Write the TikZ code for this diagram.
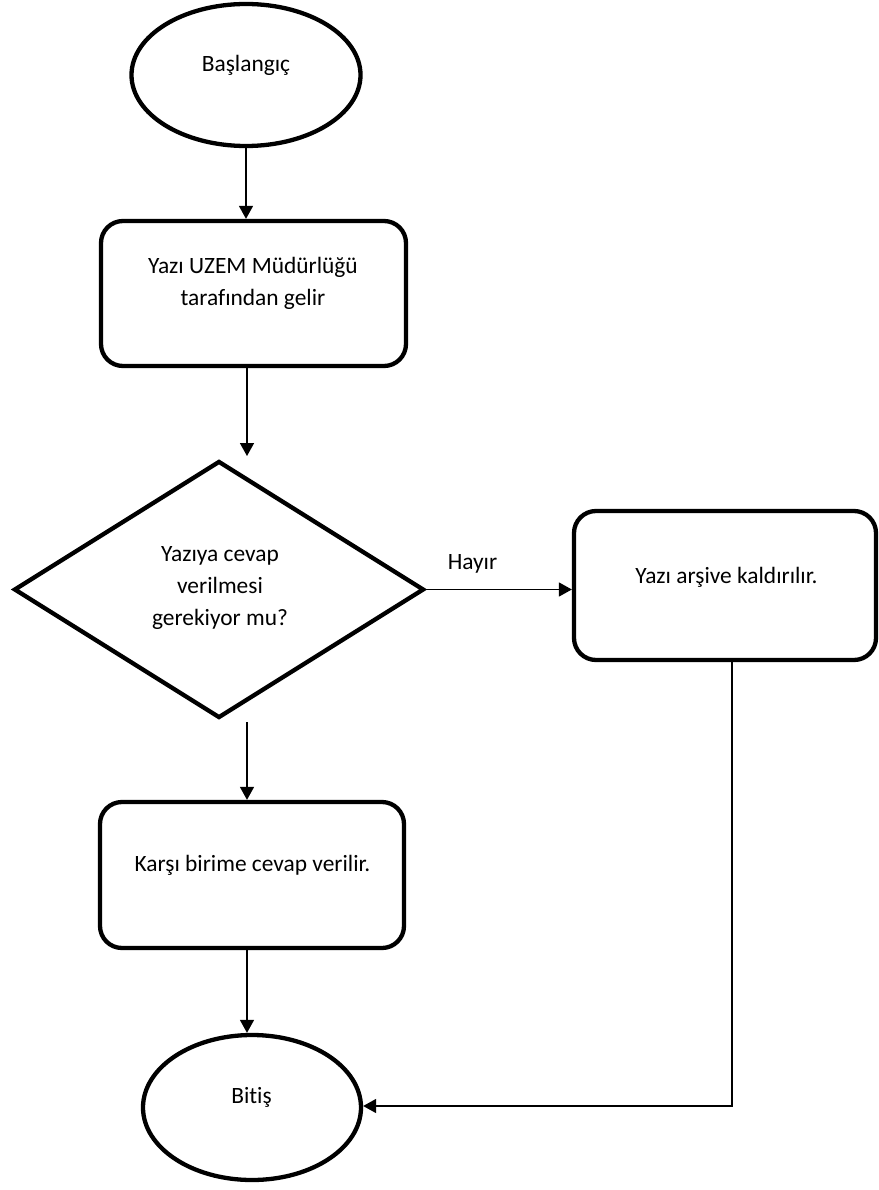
\documentclass[tikz,border=0pt]{standalone}
\usepackage{fontspec}
\setmainfont{Carlito}[Ligatures=NoCommon]
\usetikzlibrary{shapes.geometric,arrows.meta}
\begin{document}
\begin{tikzpicture}[x=1pt,y=-1pt,
  shapebox/.style={draw,line width=4.3pt,inner sep=0pt},
  termshape/.style={shapebox,ellipse},
  procshape/.style={shapebox,rectangle,rounded corners=22pt},
  decshape/.style={shapebox,diamond},
  conn/.style={line width=1.5pt,-{Triangle[length=13pt,width=14pt]}},
  txt/.style={font=\fontsize{23.4}{32}\selectfont,inner sep=0pt,anchor=base,align=center}]
\useasboundingbox (0,0) rectangle (878,1190);
% shapes
\node[termshape,minimum width=229pt,minimum height=142pt] (start) at (246,75) {};
\node[procshape,minimum width=305pt,minimum height=145pt] (box1) at (253.5,293.5) {};
\node[decshape,minimum width=410pt,minimum height=257pt] (dec) at (219,589.5) {};
\node[procshape,minimum width=302pt,minimum height=149pt] (box2) at (725,585.5) {};
\node[procshape,minimum width=304pt,minimum height=146pt] (box3) at (252,875) {};
\node[termshape,minimum width=218pt,minimum height=145pt] (end) at (252,1107.5) {};
% texts (base anchor = baseline of the last line)
\node[txt] (startT) at (246,72) {Başlangıç};
\node[txt] (box1T) at (253,305) {Yazı UZEM Müdürlüğü\\tarafından gelir};
\node[txt] (decT) at (220,625) {Yazıya cevap\\verilmesi\\gerekiyor mu?};
\node[txt] (box2T) at (726.5,583.3) {Yazı arşive kaldırılır.};
\node[txt] (box3T) at (252.5,871) {Karşı birime cevap verilir.};
\node[txt] (endT) at (251.5,1103) {Bitiş};
\node[txt] (hayir) at (472.5,569) {Hayır};
% connectors
\coordinate (c2) at (247,456);
\coordinate (c3) at (247,722);
\coordinate (c6) at (732,1106);
\draw[conn] (start.south) -- (start.south |- box1.north);
\draw[conn] (box1.south -| c2) -- (c2);
\draw[conn] (c3) -- (c3 |- box3.north);
\draw[conn] (dec.east) -- (dec.east -| box2.west);
\draw[conn] (box3.south -| c3) -- (c3 |- end.north);
\draw[conn] (box2.south -| c6) -- (c6) -- (c6 -| end.east);
\end{tikzpicture}
\end{document}
